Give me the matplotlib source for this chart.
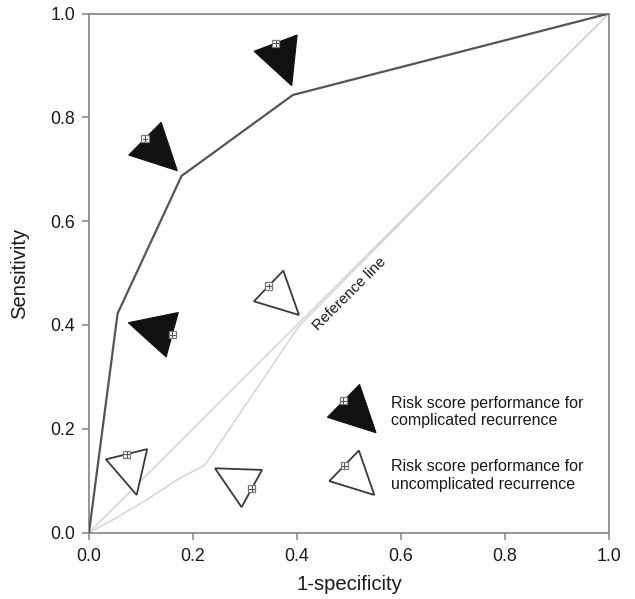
import numpy as np
import matplotlib
matplotlib.use("Agg")
import matplotlib.pyplot as plt
from matplotlib.patches import Polygon
from matplotlib.lines import Line2D
import matplotlib.transforms as mtransforms
from matplotlib.ticker import FormatStrFormatter

# ---------------- data ----------------
fpr_complicated = [0.0, 0.055, 0.178, 0.392, 1.0]
tpr_complicated = [0.0, 0.422, 0.687, 0.843, 1.0]

fpr_uncomplicated = [0.0, 0.047, 0.111, 0.175, 0.223, 0.404, 0.83, 1.0]
tpr_uncomplicated = [0.0, 0.025, 0.063, 0.105, 0.130, 0.398, 0.83, 1.0]

reference_x = [0.0, 1.0]
reference_y = [0.0, 1.0]

# triangle annotation markers (tip position, pointing angle in degrees)
tri_comp_x = [0.0756, 0.1698, 0.3898]
tri_comp_y = [0.4042, 0.6971, 0.8609]
tri_comp_angle = [164.7, -44.7, -69.3]

tri_uncomp_x = [0.2423, 0.0917, 0.4038]
tri_uncomp_y = [0.1237, 0.0723, 0.4191]
tri_uncomp_angle = [151.2, -76.0, -43.7]

legend_labels = ["Risk score performance for\ncomplicated recurrence",
                 "Risk score performance for\nuncomplicated recurrence"]
legend_tip_x = [0.5519, 0.5487]
legend_tip_y = [0.1923, 0.0723]
legend_angle = [-44.4, -44.0]
legend_text_x = 0.581
legend_text_y = [0.263, 0.141]

ticks = [0.0, 0.2, 0.4, 0.6, 0.8, 1.0]

# ---------------- figure ----------------
plt.rcParams["font.family"] = ["Liberation Sans", "DejaVu Sans"]
DPI = 100
fig = plt.figure(figsize=(6.35, 5.99), dpi=DPI)
ax = fig.add_axes([89 / 635, (599 - 532.5) / 599, 520 / 635, 519 / 599])
ax.set_xlim(0, 1)
ax.set_ylim(0, 1)

spine_col = "#8c8c8c"
for s in ax.spines.values():
    s.set_color(spine_col)
    s.set_linewidth(1.3)

ax.set_xticks(ticks)
ax.set_yticks(ticks)
ax.xaxis.set_major_formatter(FormatStrFormatter("%.1f"))
ax.yaxis.set_major_formatter(FormatStrFormatter("%.1f"))
ax.tick_params(direction="out", length=5, width=1.2, color=spine_col,
               labelsize=12.8, labelcolor="#1a1a1a")
ax.tick_params(axis="x", pad=6.0)
ax.tick_params(axis="y", pad=5.0)

ax.set_xlabel("1-specificity", fontsize=14.6, color="#1a1a1a")
ax.set_ylabel("Sensitivity", fontsize=14.6, color="#1a1a1a")
ax.xaxis.set_label_coords(0.5, -0.082)
ax.yaxis.set_label_coords(-0.116, 0.5)

light = "#d2d2d2"
ax.plot(reference_x, reference_y, color=light, lw=1.0, zorder=2)
ax.plot(fpr_uncomplicated, tpr_uncomplicated, color=light, lw=1.0, zorder=2)
ax.plot(fpr_complicated, tpr_complicated, color="#555555", lw=1.6, zorder=3,
        solid_joinstyle="miter")

ax.text(0.502, 0.4595, "Reference line", rotation=44.9, rotation_mode="anchor",
        ha="center", va="center", fontsize=10.8, color="#1a1a1a")


def draw_triangle(x, y, angle, filled):
    base, height = (46.0, 45.5) if filled else (42.5, 42.0)
    th = np.deg2rad(angle)
    u = np.array([np.cos(th), np.sin(th)])
    n = np.array([-u[1], u[0]])
    mid = -height * u
    pts = np.array([[0.0, 0.0], mid + base / 2 * n, mid - base / 2 * n])
    trans = mtransforms.Affine2D() + mtransforms.ScaledTranslation(x, y, ax.transData)
    if filled:
        poly = Polygon(pts, closed=True, facecolor="#111111", edgecolor="#111111",
                       lw=0.8, transform=trans, zorder=5, clip_on=False)
    else:
        poly = Polygon(pts, closed=True, facecolor="white", edgecolor="#3a3a3a",
                       lw=1.3, transform=trans, zorder=5, clip_on=False)
    ax.add_patch(poly)
    # small square with cross at middle of the base
    h = 3.6
    sq = np.array([[mid[0] - h, mid[1] - h], [mid[0] + h, mid[1] - h],
                   [mid[0] + h, mid[1] + h], [mid[0] - h, mid[1] + h]])
    ax.add_patch(Polygon(sq, closed=True, facecolor="white", edgecolor="#7a7a7a",
                         lw=0.9, transform=trans, zorder=6, clip_on=False))
    c = h - 1.2
    ax.add_line(Line2D([mid[0] - c, mid[0] + c], [mid[1], mid[1]], color="#555555",
                       lw=0.8, transform=trans, zorder=7, clip_on=False))
    ax.add_line(Line2D([mid[0], mid[0]], [mid[1] - c, mid[1] + c], color="#555555",
                       lw=0.8, transform=trans, zorder=7, clip_on=False))


for x, y, a in zip(tri_comp_x, tri_comp_y, tri_comp_angle):
    draw_triangle(x, y, a, True)
for x, y, a in zip(tri_uncomp_x, tri_uncomp_y, tri_uncomp_angle):
    draw_triangle(x, y, a, False)

for i, (lab, tx, ty, a) in enumerate(zip(legend_labels, legend_tip_x, legend_tip_y, legend_angle)):
    draw_triangle(tx, ty, a, i == 0)
    ax.text(legend_text_x, legend_text_y[i], lab, ha="left", va="top",
            fontsize=11.5, linespacing=1.2, color="#1a1a1a")

fig.savefig("out.png", dpi=DPI)
